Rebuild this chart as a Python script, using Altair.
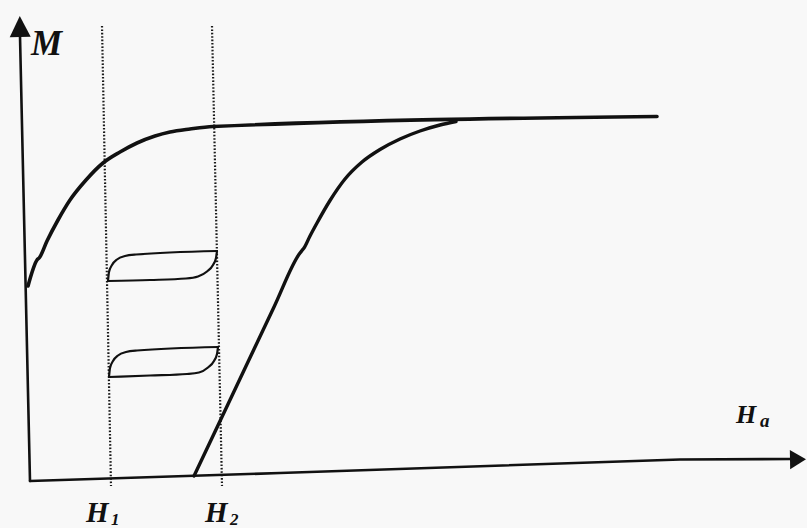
import altair as alt
import pandas as pd

# Sketch of magnetisation M against applied field H_a, in canvas units
# (x to the right, y downwards, 807 x 528).
W, H = 807, 528

# Axes (slightly skewed, as drawn by hand)
y_axis_x = [30, 20]
y_axis_y = [481, 36]
x_axis_x = [30, 280, 680, 792]
x_axis_y = [481, 473, 459.5, 459]

# Arrow heads: centre x, centre y, rotation
y_arrow = (20, 26.5, 358.8)
x_arrow = (798, 459.5, 89.0)

# Dotted guides at H1 and H2
h1_x = [102, 111]
h1_y = [26, 486]
h2_x = [212, 222]
h2_y = [26, 486]

# Upper magnetisation branch (rises steeply, then saturates)
upper_x = [28, 37, 39.5, 47, 58, 70, 86, 103, 120, 137, 155, 170, 190, 213, 657]
upper_y = [286, 260, 257.5, 241, 220, 200, 180, 163, 152, 143, 136, 132, 129, 126.5, 116.5]

# Lower branch (straight rise from the H axis, then bending into saturation)
lower_x = [194, 221, 247, 274, 300, 302, 304, 310, 317, 330, 345, 362, 380, 400, 420, 440, 456]
lower_y = [476, 419, 364, 307, 253, 250.5, 248, 236, 223, 200.5, 179, 162, 149.5, 139, 131, 125, 121.5]

# Two small hysteresis loops between H1 and H2
loop1_top_x = [108, 109, 112, 117, 125, 136, 217]
loop1_top_y = [281, 272, 265, 259.5, 256, 254.5, 251]
loop1_bot_x = [108, 150, 186, 198, 207, 213, 216, 217]
loop1_bot_y = [281, 280, 278.5, 276.5, 271.5, 265, 258, 251]

loop2_top_x = [109, 110, 113, 118, 126, 137, 218]
loop2_top_y = [377, 368, 361, 355.5, 352, 350.5, 347]
loop2_bot_x = [109, 150, 187, 199, 208, 214, 217, 218]
loop2_bot_y = [377, 375.5, 374, 372.5, 367.5, 361, 354, 347]

# Labels: text, x (left), y (baseline), font size
main_labels = [("M", 31, 55, 35), ("H", 86, 522, 29), ("H", 205, 522, 29), ("H", 736, 423, 26)]
sub_labels = [("1", 111, 525, 17), ("2", 230, 525, 17), ("a", 760, 427, 19)]

xs = alt.Scale(domain=[0, W], nice=False, zero=False)
ys = alt.Scale(domain=[H, 0], nice=False, zero=False)


def path(xv, yv):
    return pd.DataFrame({"x": xv, "y": yv, "i": range(len(xv))})


def line(xv, yv, width, interp="linear", color="#111111", dash=None, cap="round"):
    kw = dict(strokeWidth=width, color=color, interpolate=interp, strokeCap=cap, strokeJoin="round")
    if dash is not None:
        kw["strokeDash"] = dash
    return alt.Chart(path(xv, yv)).mark_line(**kw).encode(
        x=alt.X("x:Q", scale=xs, axis=None),
        y=alt.Y("y:Q", scale=ys, axis=None),
        order=alt.Order("i:Q"),
    )


def arrow(spec, shape, size):
    cx, cy, ang = spec
    return alt.Chart(pd.DataFrame({"x": [cx], "y": [cy]})).mark_point(
        shape=shape, size=size, filled=True, opacity=1, color="#111111", strokeWidth=0, angle=ang
    ).encode(x=alt.X("x:Q", scale=xs, axis=None), y=alt.Y("y:Q", scale=ys, axis=None))


def labels(rows):
    layers = []
    for txt, lx, ly, fs in rows:
        layers.append(
            alt.Chart(pd.DataFrame({"t": [txt], "x": [lx], "y": [ly]})).mark_text(
                font="Liberation Serif", fontStyle="italic", fontWeight="bold", fontSize=fs,
                align="left", baseline="alphabetic", color="#111111",
            ).encode(x=alt.X("x:Q", scale=xs, axis=None), y=alt.Y("y:Q", scale=ys, axis=None), text="t:N")
        )
    return layers


layers = [
    line(h1_x, h1_y, 2.2, color="#1a1a1a", dash=[1.6, 1.8], cap="butt"),
    line(h2_x, h2_y, 2.2, color="#1a1a1a", dash=[1.6, 1.8], cap="butt"),
    line(y_axis_x, y_axis_y, 2.6),
    line(x_axis_x, x_axis_y, 2.6),
    arrow(y_arrow, "M0,-1L1,1L-1,1Z", 441),
    arrow(x_arrow, "M0,-1L1.2,1L-1.2,1Z", 256),
    line(upper_x, upper_y, 3.6, interp="monotone"),
    line(lower_x, lower_y, 3.4, interp="monotone"),
    line(loop1_top_x, loop1_top_y, 2.2, interp="monotone"),
    line(loop1_bot_x, loop1_bot_y, 2.2, interp="monotone"),
    line(loop2_top_x, loop2_top_y, 2.2, interp="monotone"),
    line(loop2_bot_x, loop2_bot_y, 2.2, interp="monotone"),
] + labels(main_labels) + labels(sub_labels)

chart = (
    alt.layer(*layers)
    .properties(width=W, height=H, padding=0, autosize=alt.AutoSizeParams(type="none"), background="#f8f8f8")
    .configure_view(stroke=None)
)

chart.save("out.html", embed_options={"renderer": "svg", "actions": False})
